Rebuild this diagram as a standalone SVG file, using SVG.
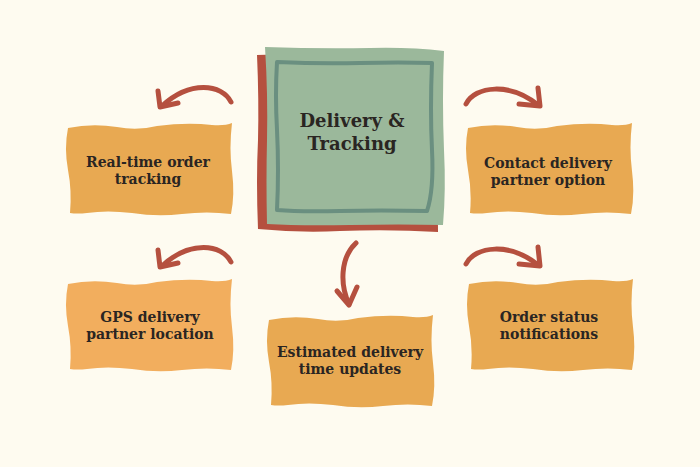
<svg xmlns="http://www.w3.org/2000/svg" width="700" height="467" viewBox="0 0 700 467">
<style>
.bg{fill:#fefbf0}
.box{fill:#e8a952}
.box2{fill:#f2ae5e}
.lbl{font-family:"DejaVu Serif","Liberation Serif",serif;font-weight:bold;font-size:14px;fill:#2a2522;text-anchor:middle}
.title{font-family:"DejaVu Serif","Liberation Serif",serif;font-weight:bold;font-size:18px;fill:#2a2522;text-anchor:middle}
.arr{fill:none;stroke:#b5503f;stroke-width:5;stroke-linecap:round;stroke-linejoin:round}
</style>
<defs>
<path id="wavy" d="M1,5 Q25,0 50,4 Q70,8 90,3 Q120,-1 145,2 Q158,3 165,0 Q162,25 165,48 Q168,72 164,91 Q140,88 115,91 Q90,94 65,90 Q40,87 20,90 Q10,91 3,90 Q5,68 1,47 Q-3,25 1,5 Z"/>
</defs>
<rect class="bg" x="0" y="0" width="700" height="467"/>
<g id="center">
<path d="M257,55 Q300,53 350,56 Q400,58 437,55 L438,232 Q390,229 340,231 Q300,233 258,229 Q256,180 258,140 Q259,100 257,55 Z" fill="#b5503f"/>
<path d="M265,47 Q320,49 370,48 Q410,47 444,51 Q442,100 444,150 Q446,190 443,225 Q400,224 350,225 Q300,226 267,224 Q266,180 267,140 Q268,95 265,47 Z" fill="#9bb89b"/>
<path d="M277,62 Q320,64 360,63 Q400,62 432,63 Q430,110 432,150 Q434,190 427,211 Q380,210 340,211 Q300,212 277,210 Q279,170 277,130 Q275,95 277,62 Z" fill="none" stroke="#6a8f80" stroke-width="4" stroke-linejoin="round"/>
<text class="title" x="352" y="127">Delivery &amp;</text>
<text class="title" x="352" y="150">Tracking</text>
</g>
<g id="n1">
<use href="#wavy" class="box" transform="translate(67,123)"/>
<text class="lbl" x="148" y="167">Real-time order</text>
<text class="lbl" x="148" y="184">tracking</text>
</g>
<g id="n2">
<use href="#wavy" class="box" transform="translate(467,123)"/>
<text class="lbl" x="548" y="168">Contact delivery</text>
<text class="lbl" x="548" y="185">partner option</text>
</g>
<g id="n3">
<use href="#wavy" class="box2" transform="translate(67,279)"/>
<text class="lbl" x="150" y="322">GPS delivery</text>
<text class="lbl" x="150" y="339">partner location</text>
</g>
<g id="n4">
<use href="#wavy" class="box" transform="translate(268,315)"/>
<text class="lbl" x="350" y="357">Estimated delivery</text>
<text class="lbl" x="350" y="374">time updates</text>
</g>
<g id="n5">
<use href="#wavy" class="box" transform="translate(468,279)"/>
<text class="lbl" x="549" y="322">Order status</text>
<text class="lbl" x="549" y="339">notifications</text>
</g>
<g id="connectors">
<path class="arr" d="M231,102 C222,84 190,80 162,106"/>
<path class="arr" d="M158,91 L160,107 L178,103"/>
<path class="arr" d="M466,104 C475,86 510,82 538,105"/>
<path class="arr" d="M538,88 L540,106 L519,104"/>
<path class="arr" d="M231,262 C222,244 190,240 162,266"/>
<path class="arr" d="M158,250 L160,267 L178,263"/>
<path class="arr" d="M466,264 C475,246 510,242 538,265"/>
<path class="arr" d="M538,247 L540,266 L519,264"/>
<path class="arr" d="M356,243 C340,258 340,285 349,304"/>
<path class="arr" d="M337,291 L349,305 L357,287"/>
</g>
</svg>
